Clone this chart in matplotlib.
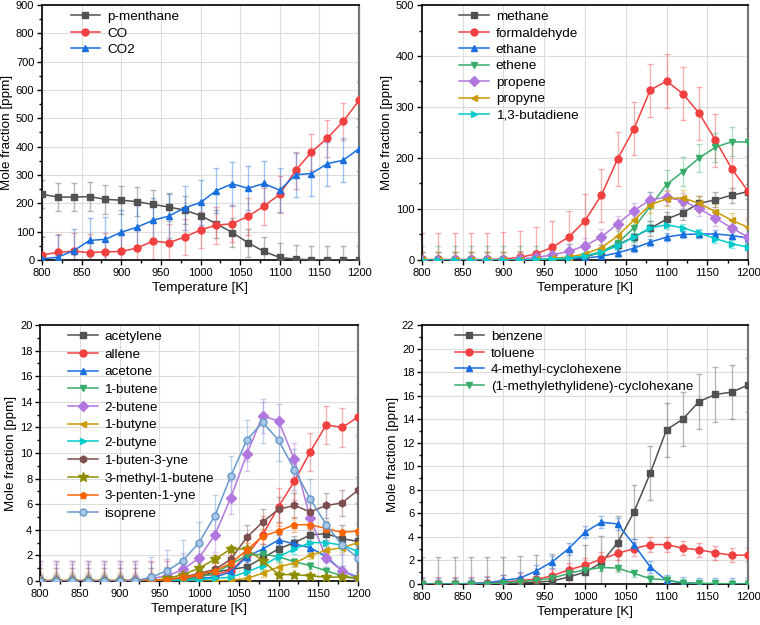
import numpy as np
import matplotlib
matplotlib.use("Agg")
from matplotlib import pyplot as plt

plt.rcParams['font.family'] = ['Liberation Sans', 'DejaVu Sans']

temperature = list(range(800, 1201, 20))

# panel a
p_menthane = [232, 222, 222, 224, 214, 211, 206, 196, 187, 176, 157, 128, 97, 61, 30, 9, 3, 1, 0, 0, 0]
co = [18, 27, 31, 26, 29, 30, 42, 67, 61, 81, 106, 123, 128, 154, 190, 232, 316, 381, 430, 489, 563]
co2 = [4, 10, 33, 69, 73, 98, 116, 140, 155, 184, 203, 245, 269, 253, 270, 246, 301, 305, 340, 352, 393]

# panel b
methane = [0, 0, 0, 0, 0, 0, 0, 0, 1, 3, 6, 15, 30, 45, 62, 80, 93, 111, 118, 127, 134]
formaldehyde = [1, 1, 1, 1, 1, 2, 5, 12, 25, 45, 77, 127, 198, 257, 333, 351, 326, 288, 235, 179, 135]
ethane = [0, 0, 0, 0, 0, 0, 0, 0, 1, 2, 4, 7, 14, 23, 35, 45, 50, 51, 51, 48, 43]
ethene = [0, 0, 0, 0, 0, 0, 0, 0, 1, 3, 8, 16, 33, 63, 105, 148, 173, 200, 221, 232, 231]
propene = [0, 0, 0, 0, 0, 0, 2, 5, 10, 17, 28, 45, 71, 97, 118, 123, 116, 101, 82, 63, 45]
propyne = [0, 0, 0, 0, 0, 0, 0, 1, 3, 6, 12, 24, 47, 78, 108, 120, 122, 111, 95, 78, 64]
butadiene = [0, 0, 0, 0, 0, 0, 0, 1, 2, 4, 8, 15, 28, 45, 63, 69, 63, 53, 42, 32, 25]

# panel c
acetylene = [0, 0, 0, 0, 0, 0, 0, 0, 0.05, 0.2, 0.4, 0.7, 0.9, 1.1, 1.8, 2.5, 3.0, 3.6, 3.7, 3.3, 3.1]
allene = [0.05, 0.05, 0.05, 0.05, 0.05, 0.05, 0.05, 0.05, 0.1, 0.2, 0.4, 0.5, 0.8, 2.0, 3.6, 5.8, 7.8, 10.1, 12.2, 12.0, 12.8]
acetone = [0, 0, 0, 0, 0, 0, 0, 0, 0.05, 0.1, 0.2, 0.3, 0.7, 1.9, 2.5, 3.2, 2.9, 2.6, 1.9, 0.8, 0.3]
butene1 = [0, 0, 0, 0, 0, 0, 0, 0, 0.05, 0.1, 0.3, 0.6, 1.3, 2.0, 2.1, 1.9, 1.5, 1.2, 0.8, 0.4, 0.2]
butene2 = [0, 0, 0, 0, 0, 0, 0.05, 0.2, 0.4, 0.9, 1.8, 3.6, 6.5, 9.9, 12.9, 12.5, 9.5, 4.9, 1.8, 0.8, 0.2]
butyne1 = [0, 0, 0, 0, 0, 0, 0, 0, 0, 0, 0, 0, 0.05, 0.2, 0.6, 1.1, 1.4, 2.0, 2.4, 2.6, 3.0]
butyne2 = [0, 0, 0, 0, 0, 0, 0, 0, 0, 0.05, 0.1, 0.2, 0.3, 0.7, 1.2, 1.9, 2.5, 3.0, 3.0, 2.8, 2.3]
butenyne = [0, 0, 0, 0, 0, 0, 0, 0, 0.1, 0.3, 0.6, 0.9, 1.7, 3.4, 4.6, 5.6, 5.9, 5.4, 5.9, 6.1, 7.1]
methylbutene = [0, 0, 0, 0, 0, 0, 0, 0, 0.2, 0.5, 1.0, 1.7, 2.5, 2.5, 1.6, 0.5, 0.5, 0.4, 0.3, 0.3, 0.2]
pentenyne = [0, 0, 0, 0, 0, 0, 0, 0, 0.1, 0.3, 0.5, 0.8, 1.4, 2.4, 3.5, 3.9, 4.4, 4.4, 4.1, 3.8, 3.9]
isoprene = [0, 0, 0, 0, 0, 0, 0, 0.3, 0.8, 1.6, 3.0, 5.1, 8.2, 11.0, 12.4, 11.0, 8.7, 6.4, 4.4, 2.8, 1.8]

# panel d
benzene = [0, 0, 0, 0, 0, 0, 0.1, 0.15, 0.25, 0.6, 1.0, 1.8, 3.5, 6.1, 9.4, 13.1, 14.0, 15.5, 16.1, 16.3, 16.9]
toluene = [0, 0, 0, 0, 0.1, 0.15, 0.3, 0.4, 0.7, 1.2, 1.6, 2.1, 2.6, 3.0, 3.35, 3.35, 3.05, 2.9, 2.65, 2.45, 2.45]
methylcyclohexene = [0, 0, 0, 0.05, 0.1, 0.3, 0.5, 1.1, 1.9, 3.0, 4.4, 5.25, 5.1, 3.35, 1.45, 0.3, 0.1, 0.05, 0, 0, 0]
methylethylidene = [0, 0, 0, 0, 0, 0.1, 0.2, 0.3, 0.5, 0.9, 1.2, 1.4, 1.35, 0.9, 0.45, 0.35, 0.1, 0.05, 0.05, 0, 0]

gray = '#515151'
red = '#F14040'
blue = '#1A6FDF'
green = '#37AD6B'
purple = '#B177DE'
gold = '#CC9900'
cyan = '#00CBCC'
brown = '#7D4E4E'
olive = '#8E8E00'
orange = '#FB6501'
lightblue = '#6699CC'


def drawPanel(ax, series, ymax, ystep, legendX, legendY, spacing):
    for label, values, err, color, marker in series:
        values = np.array(values, dtype=float)
        ax.errorbar(temperature, values, yerr=err, fmt='none', ecolor=color, alpha=0.4,
                    elinewidth=1, capsize=2.5, capthick=1, zorder=2)
        face = color
        if label == 'isoprene':
            face = '#a9c7e6'
        ax.plot(temperature, values, color=color, marker=marker, markersize=5 if marker != '*' else 7,
                markerfacecolor=face, markeredgecolor=color, lw=1.1, label=label, zorder=3)
    ax.set_xlim(800, 1200)
    ax.set_ylim(0, ymax)
    ax.set_xticks(range(800, 1201, 50))
    ax.set_xticks(range(800, 1201, 25), minor=True)
    ax.set_yticks(np.arange(0, ymax + 0.001, ystep))
    ax.set_yticks(np.arange(0, ymax + 0.001, ystep / 2), minor=True)
    ax.grid(True, color='#dddddd', lw=0.8, zorder=0)
    ax.set_axisbelow(True)
    ax.tick_params(direction='out', length=3.5, width=1, labelsize=8, pad=2)
    ax.tick_params(which='minor', direction='out', length=2, width=1)
    for s in ax.spines.values():
        s.set_linewidth(1.2)
    ax.spines['right'].set_color('#777777')
    ax.spines['right'].set_linewidth(1.6)
    ax.set_xlabel('Temperature [K]', fontsize=9.7, labelpad=3)
    ax.set_ylabel('Mole fraction [ppm]', fontsize=9.7, labelpad=2)
    ax.legend(loc='upper left', frameon=False, fontsize=9.7, handlelength=2.2, handletextpad=0.5,
              borderpad=0, borderaxespad=0, labelspacing=spacing, bbox_to_anchor=(legendX, legendY))


fig = plt.figure(figsize=(7.6, 6.25), dpi=100)
W, H = 760, 625


def addAxes(left, top, right, bottom):
    return fig.add_axes([left / W, 1 - bottom / H, (right - left) / W, (bottom - top) / H])


axA = addAxes(42, 5, 359, 260)
axB = addAxes(422, 5, 748, 260)
axC = addAxes(40, 325, 358, 581)
axD = addAxes(422, 325, 748, 584)

drawPanel(axA, [
    ('p-menthane', p_menthane, 50, gray, 's'),
    ('CO', co, 65, red, 'o'),
    ('CO2', co2, 78, blue, '^'),
], 900, 100, 0.09, 0.978, 0.3)

drawPanel(axB, [
    ('methane', methane, 15, gray, 's'),
    ('formaldehyde', formaldehyde, 52, red, 'o'),
    ('ethane', ethane, 7, blue, '^'),
    ('ethene', ethene, 28, green, 'v'),
    ('propene', propene, 15, purple, 'D'),
    ('propyne', propyne, 15, gold, '<'),
    ('1,3-butadiene', butadiene, 8, cyan, '>'),
], 500, 100, 0.115, 0.978, 0.3)

drawPanel(axC, [
    ('acetylene', acetylene, 0.5, gray, 's'),
    ('allene', allene, 1.5, red, 'o'),
    ('acetone', acetone, 0.4, blue, '^'),
    ('1-butene', butene1, 0.3, green, 'v'),
    ('2-butene', butene2, 1.3, purple, 'D'),
    ('1-butyne', butyne1, 0.3, gold, '<'),
    ('2-butyne', butyne2, 0.4, cyan, '>'),
    ('1-buten-3-yne', butenyne, 1.0, brown, 'h'),
    ('3-methyl-1-butene', methylbutene, 0.2, olive, '*'),
    ('3-penten-1-yne', pentenyne, 0.6, orange, 'p'),
    ('isoprene', isoprene, 1.6, lightblue, 'o'),
], 20, 2, 0.088, 0.978, 0.39)

drawPanel(axD, [
    ('benzene', benzene, 2.3, gray, 's'),
    ('toluene', toluene, 0.6, red, 'o'),
    ('4-methyl-cyclohexene', methylcyclohexene, 0.5, blue, '^'),
    ('(1-methylethylidene)-cyclohexane', methylethylidene, 0.3, green, 'v'),
], 22, 2, 0.10, 0.978, 0.3)

fig.savefig('out.png', dpi=100)
